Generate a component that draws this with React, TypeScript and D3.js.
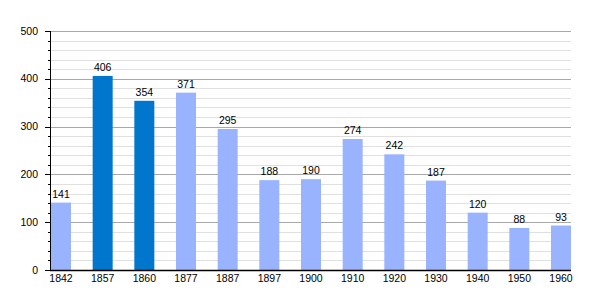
import React from "react";
import * as d3 from "d3";

const years = ["1842", "1857", "1860", "1877", "1887", "1897", "1900", "1910", "1920", "1930", "1940", "1950", "1960"];
const population = [141, 406, 354, 371, 295, 188, 190, 274, 242, 187, 120, 88, 93];
const highlighted = ["1857", "1860"];
const yTicks = [0, 100, 200, 300, 400, 500];

export default function App() {
  const width = 600;
  const height = 300;
  const left = 50;
  const right = 571;
  const top = 31;
  const bottom = 270;

  const x = d3.scaleBand<string>().domain(years).range([left + 1, right]).paddingInner(0.52).paddingOuter(0);
  const y = d3.scaleLinear().domain([0, 500]).range([bottom, top]);
  const minor = d3.range(0, 501, 20).filter((v) => v % 100 !== 0);
  const font = "'Liberation Sans', Arial, sans-serif";

  return (
    <svg width={width} height={height} style={{ position: "absolute", left: 0, top: 0 }} fontFamily={font}>
      <rect width={width} height={height} fill="#fff" />
      {minor.map((v) => (
        <line key={"m" + v} x1={left} x2={right} y1={Math.round(y(v)) + 0.5} y2={Math.round(y(v)) + 0.5} stroke="#e0e0e0" />
      ))}
      {yTicks.filter((v) => v > 0).map((v) => (
        <line key={"g" + v} x1={left} x2={right} y1={Math.round(y(v)) + 0.5} y2={Math.round(y(v)) + 0.5} stroke="#a8a8a8" />
      ))}
      {minor.map((v) => (
        <line key={"mt" + v} x1={left - 2} x2={left} y1={Math.round(y(v)) + 0.5} y2={Math.round(y(v)) + 0.5} stroke="#000" />
      ))}
      {yTicks.map((v) => (
        <g key={"t" + v}>
          <line x1={left - 5} x2={left} y1={Math.round(y(v)) + 0.5} y2={Math.round(y(v)) + 0.5} stroke="#000" />
          <text x={38} y={y(v)} dy="0.35em" textAnchor="end" fontSize={10.5} fill="#000">{v}</text>
        </g>
      ))}
      {years.map((yr, i) => (
        <g key={yr}>
          <rect
            x={x(yr)}
            y={y(population[i])}
            width={x.bandwidth()}
            height={bottom - y(population[i])}
            fill={highlighted.includes(yr) ? "#0077cc" : "#99b3ff"}
          />
          <text x={(x(yr) as number) + x.bandwidth() / 2} y={y(population[i]) - 5} textAnchor="middle" fontSize={10.5} fill="#000">
            {population[i]}
          </text>
          <text x={(x(yr) as number) + x.bandwidth() / 2} y={282} textAnchor="middle" fontSize={10.5} fill="#000">
            {yr}
          </text>
        </g>
      ))}
      <line x1={left + 0.5} x2={left + 0.5} y1={top} y2={bottom} stroke="#000" />
      <line x1={left} x2={right} y1={bottom + 0.5} y2={bottom + 0.5} stroke="#000" strokeWidth={1.5} />
    </svg>
  );
}
